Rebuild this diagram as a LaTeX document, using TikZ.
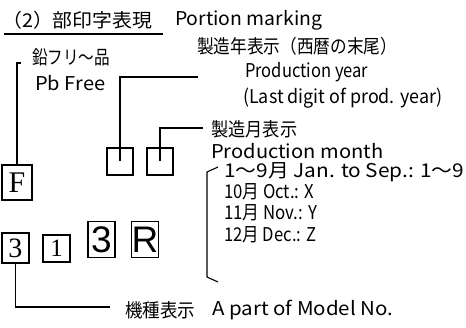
\documentclass[tikz,border=0pt]{standalone}
\usepackage{fontspec}
\usepackage{graphicx}
\setmainfont{Noto Sans CJK JP}
\newfontfamily\boxserif{Liberation Serif}
\newfontfamily\boxsans{Liberation Sans}
\newcommand\fitw[2]{\resizebox{#1pt}{\height}{#2}}
\tikzset{
  lbl/.style={anchor=west, inner sep=0pt, font=\fontsize{19}{21}\selectfont},
  charbox/.style={draw, line width=1.1pt, inner sep=0pt},
  conn/.style={line width=1.1pt},
}
\begin{document}
\begin{tikzpicture}[x=1pt,y=-1pt]
\useasboundingbox (0,0) rectangle (466,328);
% texts
\node[lbl] (t1) at (2,20) {\fitw{150}{（2）部印字表現}};
\node[lbl] (t2) at (175,20) {\fitw{147}{Portion marking}};
\node[lbl] (t3) at (32,57) {\fitw{78}{鉛フリ～品}};
\node[lbl] (t4) at (35,83) {\fitw{70}{Pb Free}};
\node[lbl] (t5) at (197,46) {\fitw{200}{製造年表示（西暦の末尾）}};
\node[lbl] (t6) at (245,72) {\fitw{123}{Production year}};
\node[lbl] (t7) at (243,98) {\fitw{199}{(Last digit of prod. year)}};
\node[lbl] (t8) at (211,129) {\fitw{86}{製造月表示}};
\node[lbl] (t9) at (211,151) {\fitw{172}{Production month}};
\node[lbl] (m1) at (224,172) {\fitw{240}{1～9月 Jan. to Sep.: 1～9}};
\node[lbl] (m2) at (224,192) {\fitw{90}{10月 Oct.: X}};
\node[lbl] (m3) at (224,213) {\fitw{93}{11月 Nov.: Y}};
\node[lbl] (m4) at (224,235) {\fitw{92}{12月 Dec.: Z}};
\node[lbl] (t10) at (125,310) {\fitw{70}{機種表示}};
\node[lbl] (t11) at (212,310) {\fitw{181}{A part of Model No.}};
% boxes
\node[charbox, minimum width=30pt, minimum height=35pt, font=\boxserif\fontsize{30}{30}\selectfont] (bF) at (17,182.5) {F};
\node[charbox, minimum width=26pt, minimum height=27pt] (by1) at (120,161.5) {};
\node[charbox, minimum width=26pt, minimum height=27pt] (by2) at (160,161.5) {};
\node[charbox, minimum width=27pt, minimum height=30pt, font=\boxserif\fontsize{28}{28}\selectfont] (b3) at (15.5,248) {3};
\node[charbox, minimum width=27pt, minimum height=27pt, font=\boxserif\fontsize{25}{25}\selectfont] (b1) at (56.5,248.5) {1};
\node[charbox, minimum width=27pt, minimum height=36pt, font=\boxsans\fontsize{37}{37}\selectfont] (bB) at (101.5,239.5) {3};
\node[charbox, minimum width=26pt, minimum height=36pt, font=\boxsans\fontsize{37}{37}\selectfont] (bR) at (145,239.5) {R};
% helper coordinates
\coordinate (u0) at (4,34);
\coordinate (u1) at (163,34);
\coordinate (fq) at (21,63);
\coordinate (yq) at (198,77);
\coordinate (mq) at (203,128);
\coordinate (kq) at (110,307);
\coordinate (br0) at (218,167);
\coordinate (br1) at (218,282);
% connectors
\draw[conn] (u0) -- (u1);
\draw[conn] (fq) -- (bF.north |- fq) -- (bF.north);
\draw[conn] (yq) -- (by1.center |- yq) -- (by1.center);
\draw[conn] (mq) -- (by2.center |- mq) -- (by2.center);
\draw[conn] (b3.south) -- (b3.south |- kq) -- (kq);
\draw[conn] (br0) -- (207,172) -- (207,277) -- (br1);
\end{tikzpicture}
\end{document}
